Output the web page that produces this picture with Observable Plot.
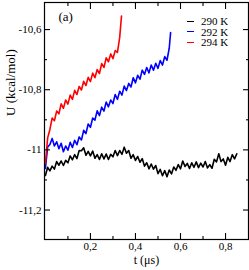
<!DOCTYPE html>
<html><head><meta charset="utf-8">
<script src="https://cdn.jsdelivr.net/npm/d3@7"></script>
<script src="https://cdn.jsdelivr.net/npm/@observablehq/plot@0.6"></script>
<style>body{margin:0;background:#fff;}</style></head><body>
<div id="wrap" style="position:relative;width:249px;height:270px;font-family:'Liberation Serif';"></div>
<script>
// sampling step of the traces (microseconds)
const dt = 0.01;
const seriesNames = ["290 K", "292 K", "294 K"];
const seriesColors = ["#000000", "#0000ff", "#ff0000"];
const xTicks = [0.2, 0.4, 0.6, 0.8];
const xMinor = [0.1, 0.3, 0.5, 0.7];
const yTicks = [-10.6, -10.8, -11, -11.2];
const yMinor = [-10.7, -10.9, -11.1];

// 290 K: t = 0 to 0.85
const u290 = [-11.085,-11.058,-11.070,-11.054,-11.064,-11.039,-11.051,-11.037,-11.052,-11.035,
  -11.043,-11.020,-11.033,-11.016,-11.029,-11.002,-11.003,-10.993,-11.018,-11.005,
  -11.020,-11.004,-11.028,-11.016,-11.032,-11.013,-11.030,-11.014,-11.032,-11.015,
  -11.023,-11.002,-11.019,-11.002,-11.015,-10.991,-11.011,-11.002,-11.028,-11.016,
  -11.035,-11.022,-11.041,-11.029,-11.054,-11.043,-11.063,-11.047,-11.064,-11.052,
  -11.079,-11.065,-11.086,-11.069,-11.089,-11.067,-11.080,-11.057,-11.068,-11.049,
  -11.063,-11.037,-11.055,-11.045,-11.062,-11.043,-11.058,-11.040,-11.059,-11.044,
  -11.057,-11.039,-11.060,-11.049,-11.061,-11.031,-11.040,-11.013,-11.039,-11.030,
  -11.051,-11.025,-11.039,-11.016,-11.030,-11.013];
const tEnd290 = 0.85;
// 292 K: t = 0 to 0.556
const u292 = [-11.062,-10.990,-10.982,-10.962,-10.987,-10.973,-10.996,-10.978,-11.006,-10.987,
  -11.001,-10.975,-10.992,-10.968,-10.983,-10.957,-10.967,-10.935,-10.946,-10.914,
  -10.925,-10.894,-10.901,-10.870,-10.886,-10.858,-10.871,-10.841,-10.857,-10.834,
  -10.846,-10.816,-10.832,-10.805,-10.818,-10.788,-10.803,-10.779,-10.791,-10.760,
  -10.777,-10.752,-10.765,-10.735,-10.749,-10.726,-10.744,-10.718,-10.735,-10.712,
  -10.729,-10.703,-10.718,-10.690,-10.702,-10.662,-10.610];
const tEnd292 = 0.556;
// 294 K: t = 0 to 0.338
const u294 = [-11.046,-10.960,-10.932,-10.894,-10.903,-10.871,-10.880,-10.847,-10.862,-10.834,
  -10.848,-10.818,-10.832,-10.802,-10.816,-10.789,-10.801,-10.772,-10.786,-10.759,
  -10.773,-10.745,-10.760,-10.733,-10.746,-10.713,-10.726,-10.694,-10.707,-10.681,
  -10.697,-10.670,-10.676,-10.626,-10.555];
const tEnd294 = 0.338;

function rows(name, vals, tEnd) {
  return vals.map((u, i) => ({series: name, t: i === vals.length - 1 ? tEnd : i * dt, u}));
}
const data = [
  ...rows(seriesNames[0], u290, tEnd290),
  ...rows(seriesNames[1], u292, tEnd292),
  ...rows(seriesNames[2], u294, tEnd294)
];
const fmt = d => String(d).replace(".", ",");

const chart = Plot.plot({
  width: 249, height: 270,
  marginLeft: 44, marginRight: 1, marginTop: 2, marginBottom: 31,
  style: {fontFamily: "Liberation Serif", fontSize: "11px"},
  x: {domain: [-0.004, 0.902]},
  y: {domain: [-11.298, -10.51]},
  color: {domain: seriesNames, range: seriesColors},
  marks: [
    Plot.line(data, {x: "t", y: "u", z: "series", stroke: "series", strokeWidth: 1.6}),
    Plot.axisX({anchor: "bottom", ticks: xTicks, tickSize: -6, fill: "none", label: null, strokeWidth: 1.1}),
    Plot.axisX({anchor: "bottom", ticks: xMinor, tickSize: -3, fill: "none", label: null, strokeWidth: 1.1}),
    Plot.axisX({anchor: "top", ticks: xTicks, tickSize: -6, fill: "none", label: null, strokeWidth: 1.1}),
    Plot.axisX({anchor: "top", ticks: xMinor, tickSize: -3, fill: "none", label: null, strokeWidth: 1.1}),
    Plot.axisX({anchor: "bottom", ticks: xTicks, tickSize: 0, tickPadding: 3, tickFormat: fmt, label: null}),
    Plot.axisY({anchor: "left", ticks: yTicks, tickSize: -6, fill: "none", label: null, strokeWidth: 1.1}),
    Plot.axisY({anchor: "left", ticks: yMinor, tickSize: -3, fill: "none", label: null, strokeWidth: 1.1}),
    Plot.axisY({anchor: "right", ticks: yTicks, tickSize: -6, fill: "none", label: null, strokeWidth: 1.1}),
    Plot.axisY({anchor: "right", ticks: yMinor, tickSize: -3, fill: "none", label: null, strokeWidth: 1.1}),
    Plot.axisY({anchor: "left", ticks: yTicks, tickSize: 0, tickPadding: 3, tickFormat: fmt, label: null}),
    Plot.frame({stroke: "#000", strokeWidth: 1.2}),
    Plot.text(["(a)"], {frameAnchor: "top-left", dx: 14, dy: 9, text: d => d, fontSize: 13, textAnchor: "start"}),
    Plot.text(["t (\u03bcs)"], {frameAnchor: "bottom", dy: 24, text: d => d, fontSize: 12, ariaLabel: "xlabel"}),
    Plot.text(["U (kcal/mol)"], {frameAnchor: "left", dx: -34, dy: -5, rotate: -90, text: d => d, fontSize: 13, ariaLabel: "ylabel"})
  ]
});

// italic variable names in the axis titles
function italicize(label, first, rest) {
  const t = d3.select(chart).select("g[aria-label='" + label + "'] text");
  t.text(null);
  t.append("tspan").attr("font-style", "italic").text(first);
  t.append("tspan").text(rest);
}
italicize("xlabel", "t", " (\u03bcs)");
italicize("ylabel", "U", " (kcal/mol)");

const wrap = document.getElementById("wrap");
wrap.appendChild(chart);
const leg = document.createElement("div");
leg.style.cssText = "position:absolute;left:187px;top:16px;font-size:11px;color:#000;font-family:'Liberation Serif';";
seriesNames.forEach((n, i) => {
  const r = document.createElement("div");
  r.style.cssText = "height:10.5px;line-height:10.5px;display:flex;align-items:center;white-space:nowrap;";
  const s = document.createElement("span");
  s.style.cssText = "display:inline-block;width:7px;height:0;border-top:1.6px solid " + seriesColors[i] + ";margin-right:7px;";
  r.appendChild(s);
  r.appendChild(document.createTextNode(n));
  leg.appendChild(r);
});
wrap.appendChild(leg);
</script></body></html>
